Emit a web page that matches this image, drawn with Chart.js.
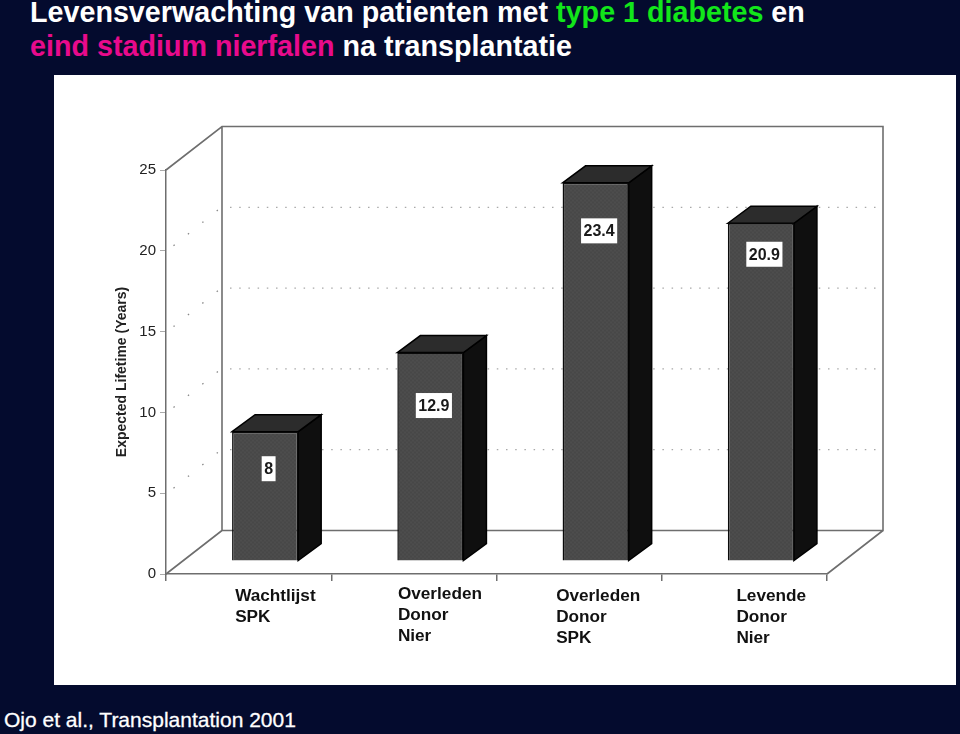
<!DOCTYPE html>
<html>
<head>
<meta charset="utf-8">
<title>Levensverwachting</title>
<script src="https://cdn.jsdelivr.net/npm/chart.js@4"></script>
<style>
  html, body { margin: 0; padding: 0; background: #040b2e; }
  body { position: relative; width: 960px; height: 734px; overflow: hidden; font-family: "Liberation Sans", Arial, sans-serif; }
  #title { position: absolute; left: 30px; top: -5px; color: #fff; font-size: 28.7px; font-weight: bold; line-height: 34px; white-space: nowrap; }
  #title .green { color: #12e61a; }
  #title .pink { color: #e80a8c; }
  #panel { position: absolute; left: 54px; top: 75px; width: 902px; height: 610px; background: #fff; }
  #footer { position: absolute; left: 4px; top: 708px; color: #fff; font-size: 21px; line-height: 24px; white-space: nowrap; -webkit-text-stroke: 0.3px #fff; }
</style>
</head>
<body>
<div id="title">Levensverwachting van patienten met <span class="green">type 1 diabetes</span> en<br><span class="pink">eind stadium nierfalen</span> na transplantatie</div>
<div id="panel"><canvas id="lifetimeChart" width="902" height="610"></canvas></div>
<div id="footer">Ojo et al., Transplantation 2001</div>

<script>
  // values
  const categories = [
    ['Wachtlijst', 'SPK'],
    ['Overleden', 'Donor', 'Nier'],
    ['Overleden', 'Donor', 'SPK'],
    ['Levende', 'Donor', 'Nier']
  ];
  const lifetimes = [8, 12.9, 23.4, 20.9];
  const yTicks = [0, 5, 10, 15, 20, 25];

  // the floor and walls sit behind the front axes
  const wallDepth = { x: 56, y: -43.5 };
  const barShift = { x: 16.5, y: -13 };
  const barDepth = { x: 23, y: -17 };

  // hand placed in the original slide
  const labelNudge = [{ x: -13.5, y: 27 }, { x: -16, y: 25 }, { x: -23, y: 27 }, { x: -8, y: 27 }];
  const valueDrop = [37, 53, 48, 31];

  const wallColor = '#6e6e6e';
  const dotColor = '#a8a8a8';

  // grainy print look of the bar front
  function grainPattern(ctx) {
    const tile = document.createElement('canvas');
    tile.width = tile.height = 4;
    const t = tile.getContext('2d');
    t.fillStyle = '#4a4a4a';
    t.fillRect(0, 0, 4, 4);
    t.fillStyle = '#505050';
    t.fillRect(0, 0, 1, 1);
    t.fillRect(2, 2, 1, 1);
    t.fillStyle = '#444';
    t.fillRect(2, 0, 1, 1);
    t.fillRect(0, 2, 1, 1);
    return ctx.createPattern(tile, 'repeat');
  }

  const wallsPlugin = {
    id: 'walls',
    beforeDatasetsDraw(chart) {
      const { ctx, scales: { x, y } } = chart;
      const top = y.getPixelForValue(25);
      const bottom = y.getPixelForValue(0);
      const dx = wallDepth.x, dy = wallDepth.y;

      ctx.save();
      // dotted grid on the side and back wall
      ctx.lineWidth = 1.3;
      yTicks.slice(1, -1).forEach(function (tick) {
        const py = y.getPixelForValue(tick);
        ctx.strokeStyle = '#888';
        ctx.setLineDash([1.5, 17]);
        ctx.beginPath();
        ctx.moveTo(x.left + 7.5, py - 5);
        ctx.lineTo(x.left + dx - 2, py + dy + 1);
        ctx.stroke();
        ctx.strokeStyle = dotColor;
        ctx.setLineDash([1.5, 7.7]);
        ctx.beginPath();
        ctx.moveTo(x.left + dx + 8, py + dy);
        ctx.lineTo(x.right + dx - 4, py + dy);
        ctx.stroke();
      });
      ctx.setLineDash([]);

      ctx.strokeStyle = wallColor;
      ctx.lineWidth = 1.6;
      ctx.beginPath();
      ctx.moveTo(x.left, top);
      ctx.lineTo(x.left + dx, top + dy);
      ctx.lineTo(x.right + dx, top + dy);
      ctx.lineTo(x.right + dx, bottom + dy);
      ctx.lineTo(x.left + dx, bottom + dy);
      ctx.lineTo(x.left + dx, top + dy);
      ctx.moveTo(x.left, bottom);
      ctx.lineTo(x.left + dx, bottom + dy);
      ctx.moveTo(x.right, bottom);
      ctx.lineTo(x.right + dx, bottom + dy);
      ctx.stroke();
      ctx.restore();
    },
    beforeDatasetDraw(chart, args) {
      const ctx = chart.ctx;
      ctx.save();
      ctx.translate(barShift.x, barShift.y);
      ctx.lineJoin = 'miter';
      ctx.strokeStyle = '#000';
      ctx.lineWidth = 1.5;
      args.meta.data.forEach(function (bar) {
        const right = bar.x + bar.width / 2;
        const left = bar.x - bar.width / 2;
        // side face
        ctx.fillStyle = '#0f0f0f';
        ctx.beginPath();
        ctx.moveTo(right, bar.y);
        ctx.lineTo(right + barDepth.x, bar.y + barDepth.y);
        ctx.lineTo(right + barDepth.x, bar.base + barDepth.y);
        ctx.lineTo(right, bar.base);
        ctx.closePath();
        ctx.fill();
        ctx.stroke();
        // top face
        ctx.fillStyle = '#2c2c2c';
        ctx.beginPath();
        ctx.moveTo(left, bar.y);
        ctx.lineTo(left + barDepth.x, bar.y + barDepth.y);
        ctx.lineTo(right + barDepth.x, bar.y + barDepth.y);
        ctx.lineTo(right, bar.y);
        ctx.closePath();
        ctx.fill();
        ctx.stroke();
      });
    },
    afterDatasetDraw(chart) {
      chart.ctx.restore();
    },
    afterDatasetsDraw(chart) {
      const { ctx, scales: { x } } = chart;
      const bars = chart.getDatasetMeta(0).data;
      ctx.save();

      // value boxes on the bars
      ctx.font = 'bold 16px "Liberation Sans", Arial, sans-serif';
      ctx.textAlign = 'center';
      ctx.textBaseline = 'middle';
      bars.forEach(function (bar, i) {
        const text = String(lifetimes[i]);
        const cx = bar.x + barShift.x + 3.5;
        const cy = bar.y + barShift.y + valueDrop[i];
        const w = ctx.measureText(text).width + 5;
        ctx.fillStyle = '#fff';
        ctx.fillRect(cx - w / 2, cy - 12.5, w, 25);
        ctx.fillStyle = '#1a1a1a';
        ctx.fillText(text, cx, cy + 1);
      });

      // category labels, left aligned like the slide
      ctx.font = 'bold 17.2px "Liberation Sans", Arial, sans-serif';
      ctx.textAlign = 'left';
      ctx.textBaseline = 'middle';
      ctx.fillStyle = '#111';
      categories.forEach(function (lines, i) {
        const px = x.getPixelForValue(i) + labelNudge[i].x;
        lines.forEach(function (line, n) {
          ctx.fillText(line, px, x.bottom - x.height + labelNudge[i].y - 5 + n * 21);
        });
      });
      ctx.restore();
    }
  };

  const lifetimeCtx = document.getElementById('lifetimeChart').getContext('2d');
  const lifetimeChart = new Chart(lifetimeCtx, {
    type: 'bar',
    data: {
      labels: categories,
      datasets: [{
        data: lifetimes,
        backgroundColor: grainPattern(lifetimeCtx),
        borderColor: '#0a0a0a',
        borderWidth: 1.5,
        barPercentage: 0.4,
        categoryPercentage: 1,
        clip: false
      }]
    },
    plugins: [wallsPlugin],
    options: {
      responsive: false,
      animation: false,
      layout: { padding: { top: 95, right: 129, left: 60, bottom: 0 } },
      plugins: {
        legend: { display: false },
        tooltip: { enabled: false }
      },
      scales: {
        x: {
          grid: { drawOnChartArea: false, color: '#6e6e6e', tickLength: 7, lineWidth: 1.5 },
          border: { color: '#6e6e6e', width: 1.5 },
          ticks: { display: false },
          afterFit(scale) { scale.height = 111; }
        },
        y: {
          min: 0,
          max: 25,
          afterBuildTicks(scale) { scale.ticks = yTicks.map(function (v) { return { value: v }; }); },
          grid: { drawOnChartArea: false, color: '#aaa', tickLength: 6, lineWidth: 1 },
          border: { color: '#6e6e6e', width: 1.5 },
          ticks: { color: '#222', padding: 4, font: { family: '"Liberation Sans", Arial, sans-serif', size: 15 } },
          title: {
            display: true,
            text: 'Expected Lifetime (Years)',
            color: '#222',
            padding: 0,
            font: { family: '"Liberation Sans", Arial, sans-serif', size: 14, weight: 'bold' }
          },
          afterFit(scale) { scale.width = 52; }
        }
      }
    }
  });
</script>
</body>
</html>
